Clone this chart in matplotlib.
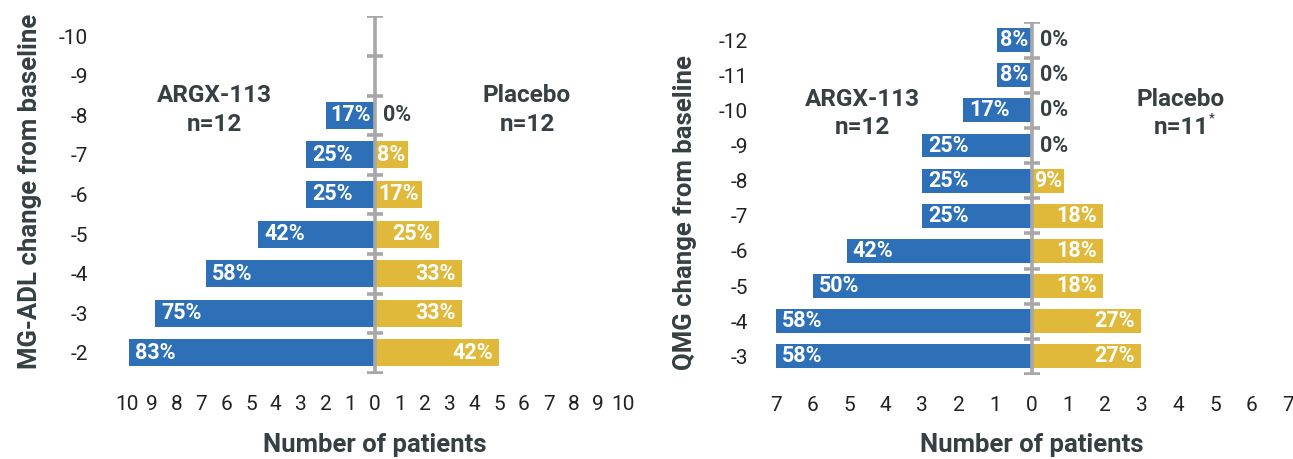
import matplotlib
matplotlib.use("Agg")

import numpy as np
import matplotlib.pyplot as plt

# ---- DATA ----
mgadl_change = [-2, -3, -4, -5, -6, -7, -8]
mgadl_argx = [9.92, 8.87, 6.81, 4.7, 2.78, 2.78, 1.98]
mgadl_placebo = [5.0, 3.5, 3.5, 2.58, 1.88, 1.32, 0]
mgadl_argx_pct = ["83%", "75%", "58%", "42%", "25%", "25%", "17%"]
mgadl_placebo_pct = ["42%", "33%", "33%", "25%", "17%", "8%", "0%"]
mgadl_yticks = [-10, -9, -8, -7, -6, -5, -4, -3, -2]
mgadl_xmax = 10

qmg_change = [-3, -4, -5, -6, -7, -8, -9, -10, -11, -12]
qmg_argx = [7.01, 7.01, 5.98, 5.07, 3.0, 3.0, 3.0, 1.89, 0.96, 0.96]
qmg_placebo = [2.98, 2.98, 1.95, 1.95, 1.95, 0.88, 0, 0, 0, 0]
qmg_argx_pct = ["58%", "58%", "50%", "42%", "25%", "25%", "25%", "17%", "8%", "8%"]
qmg_placebo_pct = ["27%", "27%", "18%", "18%", "18%", "9%", "0%", "0%", "0%", "0%"]
qmg_yticks = [-12, -11, -10, -9, -8, -7, -6, -5, -4, -3]
qmg_xmax = 7

BLUE = "#2e70b8"
GOLD = "#e0b93a"
GREY = "#a7a7a7"
DARK = "#363f42"
FONT = "Roboto"

plt.rcParams["font.family"] = [FONT, "DejaVu Sans"]

W, H = 1293, 459
fig = plt.figure(figsize=(W / 100, H / 100), dpi=100)


def px_box(x0, x1, y_top, y_bot):
    return [x0 / W, 1 - y_bot / H, (x1 - x0) / W, (y_bot - y_top) / H]


def draw_panel(ax, change, argx, placebo, argx_pct, placebo_pct, yticks, xmax, ypad):
    ylo = max(yticks) + 0.5
    yhi = min(yticks) - 0.5
    ax.set_xlim(-xmax, xmax)
    ax.set_ylim(ylo, yhi)

    ax.barh(change, [-a for a in argx], height=0.68, color=BLUE, zorder=2)
    ax.barh(change, placebo, height=0.68, color=GOLD, zorder=2)

    # centre axis with little cross ticks
    ax.plot([0, 0], [ylo, yhi], color=GREY, lw=2.6, zorder=3, solid_capstyle="butt")
    bounds = np.arange(yhi, ylo + 0.01, 1.0)
    ax.plot([0] * len(bounds), bounds, ls="none", marker="_", ms=11,
            mew=2.6, color=GREY, zorder=3)

    ppu = ax.transData.transform((1, 0))[0] - ax.transData.transform((0, 0))[0]
    pad = 6 / ppu
    lab = dict(fontsize=15.5, fontweight="bold", va="center", zorder=4)

    for y, a, t in zip(change, argx, argx_pct):
        if a * ppu < 55:
            ax.text(-a / 2, y, t, color="white", ha="center", **lab)
        else:
            ax.text(-a + pad, y, t, color="white", ha="left", **lab)

    for y, p, t in zip(change, placebo, placebo_pct):
        if p == 0:
            ax.text(8 / ppu, y, t, color=DARK, ha="left", **lab)
        elif p * ppu < 55:
            ax.text(p / 2, y, t, color="white", ha="center", **lab)
        else:
            ax.text(p - pad, y, t, color="white", ha="right", **lab)

    ax.set_yticks(yticks)
    ax.set_yticklabels([str(v) for v in yticks])
    xt = list(range(-xmax, xmax + 1))
    ax.set_xticks(xt)
    ax.set_xticklabels([str(abs(v)) for v in xt])
    ax.tick_params(axis="y", length=0, pad=ypad, labelsize=15, labelcolor="#222222")
    ax.tick_params(axis="x", length=0, pad=16, labelsize=15, labelcolor="#222222")
    for s in ax.spines.values():
        s.set_visible(False)


# ---- LEFT: MG-ADL ----
ax1 = fig.add_axes(px_box(127, 623, 16.3, 372.7))
draw_panel(ax1, mgadl_change, mgadl_argx, mgadl_placebo, mgadl_argx_pct,
           mgadl_placebo_pct, mgadl_yticks, mgadl_xmax, ypad=28)

# ---- RIGHT: QMG ----
ax2 = fig.add_axes(px_box(776, 1288, 22.5, 374))
draw_panel(ax2, qmg_change, qmg_argx, qmg_placebo, qmg_argx_pct,
           qmg_placebo_pct, qmg_yticks, qmg_xmax, ypad=20)

# ---- TEXT ----
head = dict(fontsize=17.5, fontweight="bold", color=DARK, ha="center", va="center")


def ftext(x, y, s, **kw):
    return fig.text(x / W, 1 - y / H, s, **kw)


ftext(214, 96, "ARGX-113", **head)
ftext(214, 124, "n=12", **head)
ftext(527, 96, "Placebo", **head)
ftext(527, 124, "n=12", **head)
ftext(862, 100, "ARGX-113", **head)
ftext(862, 128, "n=12", **head)
ftext(1181, 100, "Placebo", **head)
ftext(1181, 128, "n=11", **head)
ftext(1209, 118, "*", fontsize=9, fontweight="bold", color=DARK, ha="left", va="center")

axlab = dict(fontsize=18.5, fontweight="bold", color=DARK, ha="center", va="center")
ftext(375, 445, "Number of patients", **axlab)
ftext(1032, 445, "Number of patients", **axlab)
ftext(30, 191, "MG-ADL change from baseline", rotation=90, **axlab)
ftext(685, 213, "QMG change from baseline", rotation=90, **axlab)

fig.savefig("out.png", dpi=100)
